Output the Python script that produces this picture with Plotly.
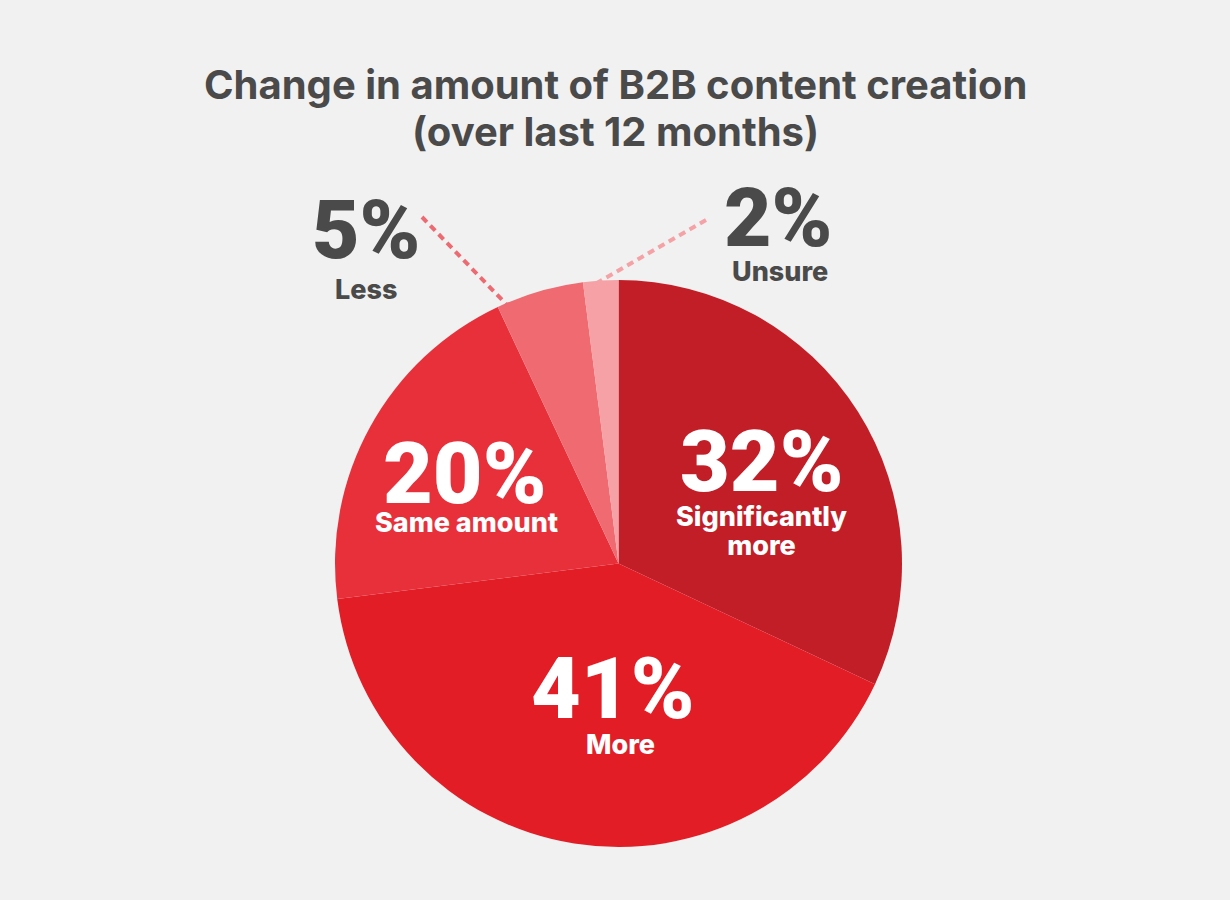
import plotly.graph_objects as go

W, H = 1230, 900

categories = ["Significantly more", "More", "Same amount", "Less", "Unsure"]
values = [32, 41, 20, 5, 2]
slice_colors = ["#C21E27", "#E31D26", "#E8303B", "#F06A71", "#F6A1A5"]
label_texts = ["Significantly<br>more", "More", "Same amount", "Less", "Unsure"]

title_lines = ["Change in amount of B2B content creation", "(over last 12 months)"]

BG = "#F1F1F1"
GRAY = "#4A4A4A"


def px(x, y):
    return x / W, 1 - y / H


fig = go.Figure()
fig.add_trace(go.Pie(
    labels=categories,
    values=values,
    sort=False,
    direction="clockwise",
    rotation=0,
    marker=dict(colors=slice_colors, line=dict(width=0)),
    textinfo="none",
    hoverinfo="label+percent",
    showlegend=False,
    domain=dict(x=[335 / W, 902 / W], y=[1 - 847 / H, 1 - 280 / H]),
))

annotations = []

# title (two lines)
for line, yc in zip(title_lines, [84, 131]):
    tx, ty = px(615, yc)
    annotations.append(dict(
        x=tx, y=ty, xref="paper", yref="paper", xanchor="center", yanchor="middle",
        text=line, showarrow=False,
        font=dict(family="Inter", size=40, color=GRAY, weight=700),
    ))

# placements: pct (x, cap-centre y, size), label (x, centre y), colour
placements = [
    ((762, 461, 86), (761, 531), "white"),
    ((613, 688, 86), (620, 744), "white"),
    ((465, 474, 86), (466, 522), "white"),
    ((366, 230, 82), (366, 289), GRAY),
    ((778, 218, 82), (780, 271), GRAY),
]
for v, lab, ((cx, cy, ps), (lx, ly), col) in zip(values, label_texts, placements):
    ax, ay = px(cx, cy)
    annotations.append(dict(
        x=ax, y=ay, xref="paper", yref="paper", xanchor="center", yanchor="middle",
        text=f"{v}%", showarrow=False,
        font=dict(family="Roboto", size=ps, color=col, weight=900),
    ))
    bx, by = px(lx, ly)
    nlines = lab.count("<br>") + 1
    annotations.append(dict(
        x=bx, y=by, xref="paper", yref="paper", xanchor="center", yanchor="middle",
        text=f"<span style='font-size:27px'>{lab}</span>" if nlines > 1 else lab,
        showarrow=False, align="center",
        font=dict(family="Inter", size=22 if nlines > 1 else 27, color=col, weight=800),
    ))

# dashed leader lines
shapes = []
for (x0, y0, x1, y1, c) in [(422, 217, 507, 305, "#EE6A72"), (706, 220, 597, 283, "#F5A2A6")]:
    a0, b0 = px(x0, y0)
    a1, b1 = px(x1, y1)
    shapes.append(dict(type="line", xref="paper", yref="paper", x0=a0, y0=b0, x1=a1, y1=b1,
                       line=dict(color=c, width=4, dash="7px,5px")))

fig.update_layout(
    width=W, height=H,
    margin=dict(l=0, r=0, t=0, b=0),
    paper_bgcolor=BG, plot_bgcolor=BG,
    annotations=annotations,
    shapes=shapes,
)

fig.write_html(
    "out.html",
    config={"displayModeBar": False},
    post_script="document.body.style.margin='0';document.body.style.overflow='hidden';"
                "document.body.style.background='#F1F1F1';",
)
